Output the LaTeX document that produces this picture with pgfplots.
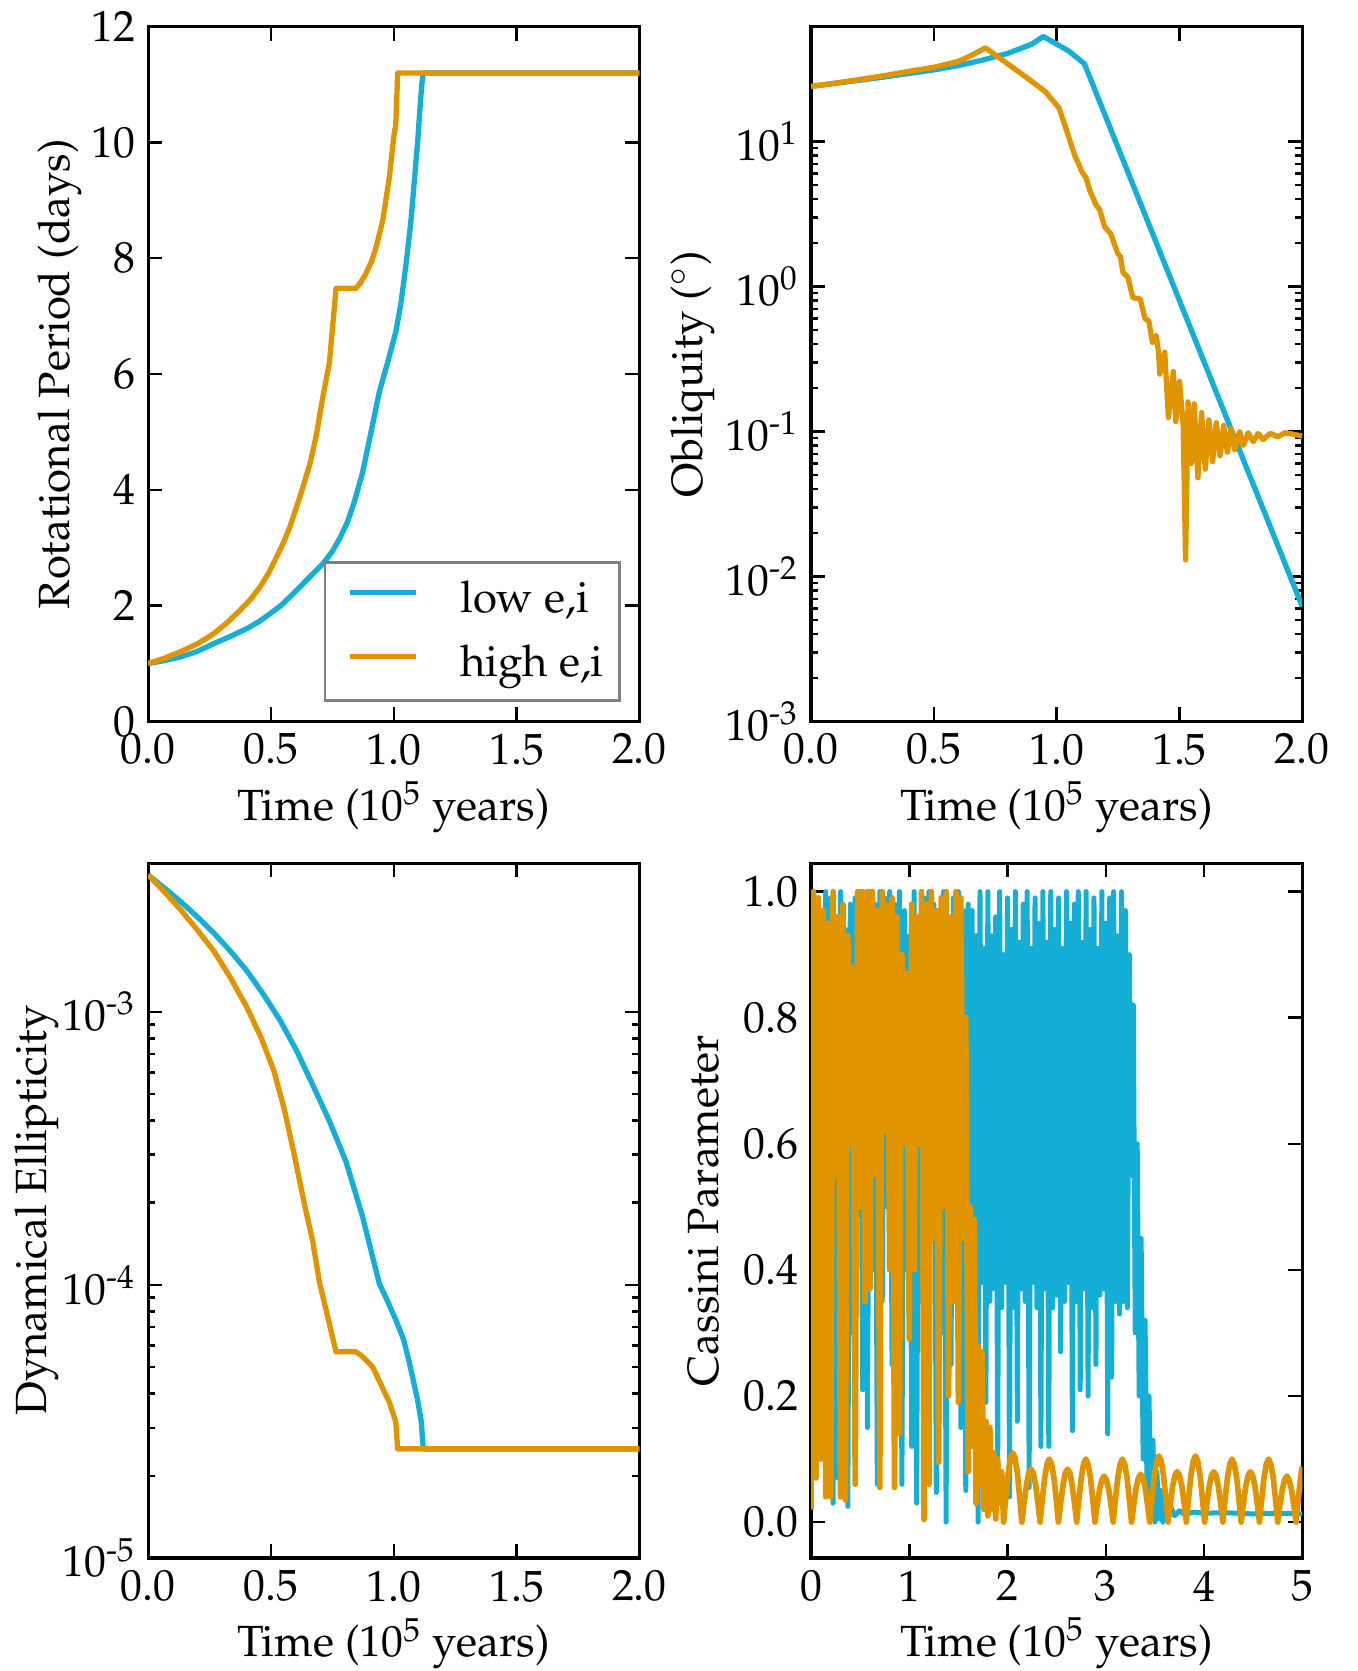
\documentclass[border=0pt]{standalone}
\usepackage[T1]{fontenc}
\usepackage{mathpazo}
\usepackage{amsmath}
\usepackage{pgfplots}
\pgfplotsset{compat=1.18}
\definecolor{cblue}{RGB}{20,174,214}
\definecolor{corange}{RGB}{224,149,0}
\pgfplotsset{
  myax/.style={
    scale only axis, width=138.3pt, height=195.6pt,
    axis line style={line width=0.9pt},
    every tick/.style={black, line width=0.7pt},
    major tick length=4pt, minor tick length=2pt,
    tick align=inside,
    font=\fontsize{12.3}{14.8}\selectfont,
    every axis plot/.append style={line join=round},
    xlabel style={yshift=2.2pt},
    ylabel shift=-4pt,
  },
  fx/.style={xticklabel style={/pgf/number format/.cd, fixed, fixed zerofill, precision=1}},
}
\begin{document}
\begin{tikzpicture}
\useasboundingbox (-41.7pt,7.5pt) rectangle (340.5pt,-462.9pt);
% ---------------- Rotational period
\begin{axis}[myax, fx, at={(0pt,0pt)}, anchor=north west,
  xmin=0, xmax=2, ymin=0, ymax=12,
  xtick={0,0.5,1,1.5,2}, ytick={0,2,4,6,8,10,12},
  xlabel={Time (10$^5$ years)}, ylabel={Rotational Period (days)},
  legend style={at={(0.962,0.028)}, anchor=south east, draw=gray, line width=0.8pt,
    row sep=7.6pt, inner xsep=4.4pt, inner ysep=5.2pt,
    nodes={inner xsep=0pt, inner ysep=0pt},
    font=\fontsize{12.3}{14.8}\selectfont},
  legend cell align=left,
  legend image code/.code={\draw[#1] (2.7pt,2.1pt) -- (21.1pt,2.1pt); \path[draw=none] (0pt,0pt) -- (33.7pt,0pt);},
]
\addplot[cblue, line width=1.5pt] coordinates {
(0,1.0)(0.065,1.05)(0.129,1.11)(0.2,1.21)(0.265,1.34)(0.33,1.46)(0.4,1.6)(0.45,1.72)(0.496,1.86)(0.54,2.0)(0.577,2.15)(0.645,2.44)(0.713,2.73)(0.75,2.94)(0.781,3.17)(0.812,3.45)(0.84,3.8)(0.873,4.3)(0.91,5.05)(0.941,5.69)(0.975,6.2)(1.009,6.74)(1.03,7.25)(1.05,7.9)(1.07,8.65)(1.084,9.35)(1.097,10.0)(1.106,10.55)(1.114,11.0)(1.12,11.2)(2.0,11.2)};
\addlegendentry{low e,i}
\addplot[corange, line width=1.5pt] coordinates {
(0,1.0)(0.065,1.09)(0.129,1.2)(0.2,1.34)(0.265,1.51)(0.32,1.7)(0.374,1.92)(0.415,2.1)(0.455,2.32)(0.49,2.56)(0.523,2.84)(0.55,3.08)(0.577,3.36)(0.618,3.88)(0.659,4.45)(0.685,4.95)(0.711,5.6)(0.738,6.2)(0.765,7.48)(0.846,7.48)(0.865,7.58)(0.887,7.74)(0.91,7.95)(0.928,8.19)(0.955,8.65)(0.982,9.4)(1.0,10.1)(1.008,10.3)(1.016,11.2)(2.0,11.2)};
\addlegendentry{high e,i}
\end{axis}
% ---------------- Obliquity
\begin{axis}[myax, fx, at={(186.6pt,0pt)}, anchor=north west,
  ymode=log, xmin=0, xmax=2, ymin=1e-3, ymax=62,
  xtick={0,0.5,1,1.5,2}, ytick={1e-3,1e-2,1e-1,1,10},
  yticklabels={$10^{\text{-}3}$,$10^{\text{-}2}$,$10^{\text{-}1}$,$10^{0}$,$10^{1}$},
  xlabel={Time (10$^5$ years)}, ylabel={Obliquity ($^\circ$)},
]
\addplot[cblue, line width=1.5pt] coordinates {
(0,24.0)(0.1,25.2)(0.2,26.5)(0.3,27.9)(0.4,29.5)(0.5,31.2)(0.6,33.4)(0.7,36.5)(0.8,40.5)(0.9,47)(0.945,53)(1.0,47)(1.05,42)(1.113,34.4)(2.0,0.0062)};
\addplot[corange, line width=1.5pt] coordinates {
(0,24)(0.1,25.3)(0.2,26.8)(0.3,28.5)(0.4,30.5)(0.5,32.5)(0.6,35.7)(0.65,39)(0.71,44.3)(0.8,34.4)(0.9,25.9)(0.955,22)(1.01,17)(1.04,12)(1.075,7.9)(1.09,7.0)(1.10,6.3)(1.12,5.6)(1.135,4.6)(1.16,3.66)(1.175,3.4)(1.195,2.59)(1.22,2.31)(1.248,1.70)(1.26,1.6)(1.27,1.25)(1.29,1.16)(1.31,0.838)(1.34,0.82)(1.36,0.60)(1.375,0.58)(1.39,0.41)(1.405,0.46)(1.415,0.352)(1.42,0.249)(1.44,0.352)(1.455,0.125)(1.475,0.259)(1.485,0.117)(1.50,0.222)(1.515,0.111)(1.525,0.013)(1.535,0.16)(1.548,0.06)(1.56,0.155)(1.575,0.048)(1.59,0.135)(1.605,0.055)(1.62,0.12)(1.635,0.062)(1.65,0.115)(1.665,0.068)(1.68,0.11)(1.695,0.072)(1.71,0.105)(1.725,0.075)(1.745,0.1)(1.76,0.08)(1.78,0.098)(1.80,0.085)(1.82,0.097)(1.84,0.088)(1.87,0.097)(1.90,0.092)(1.93,0.098)(1.96,0.096)(2.0,0.093)};
\end{axis}
% ---------------- Dynamical ellipticity
\begin{axis}[myax, fx, at={(0pt,-235.5pt)}, anchor=north west,
  ymode=log, xmin=0, xmax=2, ymin=1e-5, ymax=3.5e-3,
  xtick={0,0.5,1,1.5,2}, ytick={1e-5,1e-4,1e-3},
  yticklabels={$10^{\text{-}5}$,$10^{\text{-}4}$,$10^{\text{-}3}$},
  xlabel={Time (10$^5$ years)}, ylabel={Dynamical Ellipticity}, ylabel shift=-5.8pt,
]
\addplot[cblue, line width=1.5pt] coordinates {
(0,3.17e-3)(0.066,2.838e-3)(0.132,2.535e-3)(0.2,2.228e-3)(0.268,1.941e-3)(0.335,1.667e-3)(0.403,1.409e-3)(0.47,1.156e-3)(0.539,9.25e-4)(0.607,7.13e-4)(0.675,5.28e-4)(0.738,3.98e-4)(0.806,2.82e-4)(0.873,1.778e-4)(0.941,1.012e-4)(0.975,8.71e-5)(1.009,7.43e-5)(1.04,6.31e-5)(1.064,5.16e-5)(1.097,3.79e-5)(1.112,3.16e-5)(1.12,2.51e-5)(2.0,2.51e-5)};
\addplot[corange, line width=1.5pt] coordinates {
(0,3.17e-3)(0.066,2.754e-3)(0.132,2.366e-3)(0.2,1.995e-3)(0.268,1.667e-3)(0.335,1.334e-3)(0.403,1.035e-3)(0.46,8.04e-4)(0.512,6.08e-4)(0.555,4.37e-4)(0.594,3.02e-4)(0.64,1.905e-4)(0.67,1.445e-4)(0.697,1.028e-4)(0.738,7.19e-5)(0.765,5.69e-5)(0.846,5.69e-5)(0.87,5.50e-5)(0.914,5.01e-5)(0.945,4.37e-5)(0.982,3.72e-5)(1.008,3.16e-5)(1.016,2.51e-5)(2.0,2.51e-5)};
\end{axis}
% ---------------- Cassini parameter
\begin{axis}[myax, at={(186.6pt,-235.5pt)}, anchor=north west,
  xmin=0, xmax=5, ymin=-0.057, ymax=1.045,
  xtick={0,1,2,3,4,5}, ytick={0,0.2,0.4,0.6,0.8,1.0},
  yticklabel style={/pgf/number format/.cd, fixed, fixed zerofill, precision=1},
  xlabel={Time (10$^5$ years)}, ylabel={Cassini Parameter}, ylabel shift=0pt,
]
\addplot[cblue, line width=1.4pt] coordinates {
(0.000,0.97)(0.025,0.55)(0.050,0.98)(0.075,0.10)(0.100,0.97)(0.125,0.45)(0.150,1.00)(0.175,0.06)(0.200,0.99)(0.225,0.03)(0.250,0.96)(0.275,0.07)(0.300,1.00)(0.325,0.045)(0.350,0.94)(0.375,0.025)(0.400,0.98)(0.425,0.30)(0.450,0.99)(0.475,0.60)(0.500,1.00)(0.525,0.21)(0.550,0.97)(0.575,0.15)(0.600,1.00)(0.625,0.40)(0.650,0.98)(0.675,0.06)(0.700,1.00)(0.725,0.35)(0.750,0.99)(0.775,0.50)(0.800,1.00)(0.825,0.25)(0.850,0.98)(0.875,0.45)(0.900,1.00)(0.925,0.06)(0.950,0.97)(0.975,0.40)(1.000,0.93)(1.025,0.12)(1.050,1.00)(1.075,0.03)(1.100,0.95)(1.125,0.35)(1.150,0.99)(1.175,0.20)(1.200,1.00)(1.225,0.45)(1.250,0.98)(1.275,0.047)(1.300,0.97)(1.325,0.30)(1.350,1.00)(1.375,0.00)(1.400,0.96)(1.425,0.25)(1.450,0.99)(1.475,0.40)(1.500,1.00)(1.525,0.15)(1.550,0.97)(1.575,0.05)(1.600,0.98)
(1.62,0.50)(1.64,0.97)(1.66,0.30)(1.68,0.93)(1.70,0.00)(1.72,1.00)(1.74,0.38)(1.76,0.91)(1.78,0.19)(1.80,1.00)(1.82,0.35)(1.84,0.93)(1.86,0.37)(1.88,0.96)(1.90,0.08)(1.92,1.00)(1.94,0.34)(1.96,0.90)(1.98,0.38)(2.00,0.99)(2.02,0.04)(2.04,0.94)(2.06,0.34)(2.08,1.00)(2.10,0.16)(2.12,0.92)(2.14,0.37)(2.16,0.98)(2.18,0.35)(2.20,1.00)(2.22,0.055)(2.24,0.91)(2.26,0.38)(2.28,0.99)(2.30,0.34)(2.32,0.95)(2.34,0.12)(2.36,1.00)(2.38,0.37)(2.40,0.92)(2.42,0.12)(2.44,1.00)(2.46,0.34)(2.48,0.94)(2.50,0.36)(2.52,0.99)(2.54,0.27)(2.56,0.91)(2.58,0.35)(2.60,1.00)(2.62,0.38)(2.64,0.95)(2.66,0.145)(2.68,0.98)(2.70,0.35)(2.72,1.00)(2.74,0.21)(2.76,0.92)(2.78,0.37)(2.80,1.00)(2.82,0.20)(2.84,0.94)(2.86,0.34)(2.88,0.99)(2.90,0.25)(2.92,0.91)(2.94,0.36)(2.96,1.00)(2.98,0.37)(3.00,0.95)(3.02,0.14)(3.04,0.99)(3.06,0.23)(3.08,1.00)(3.10,0.35)(3.12,0.93)(3.14,0.33)(3.16,1.00)(3.18,0.35)(3.20,0.97)(3.22,0.34)(3.24,0.90)
(3.26,0.55)(3.28,0.82)(3.30,0.30)(3.32,0.60)(3.34,0.20)(3.36,0.45)(3.38,0.10)(3.40,0.32)(3.42,0.05)(3.44,0.20)(3.46,0.02)(3.48,0.13)(3.50,0.00)(3.52,0.08)(3.54,0.005)(3.56,0.05)(3.58,0.00)(3.60,0.03)(3.63,0.005)(3.66,0.025)(3.70,0.01)(3.75,0.018)(3.80,0.012)(3.90,0.016)(4.00,0.014)(4.20,0.015)(4.50,0.013)(4.80,0.014)(5.00,0.013)};
\addplot[corange, line width=1.6pt] coordinates {
(0.000,0.02)(0.025,1.00)(0.050,0.07)(0.075,0.99)(0.100,0.10)(0.125,0.97)(0.150,0.04)(0.175,0.95)(0.200,0.04)(0.225,1.00)(0.250,0.55)(0.275,0.96)(0.300,0.04)(0.325,0.98)(0.350,0.035)(0.375,0.93)(0.400,0.60)(0.425,0.88)(0.450,0.06)(0.475,1.00)(0.500,0.50)(0.525,1.00)(0.550,0.35)(0.575,1.00)(0.600,0.37)(0.625,1.00)(0.650,0.55)(0.675,0.97)(0.700,0.055)(0.725,1.00)(0.750,0.62)(0.775,0.98)(0.800,0.40)(0.825,0.99)(0.850,0.055)(0.875,0.96)(0.900,0.14)(0.925,0.90)(0.950,0.60)(0.975,0.87)(1.000,0.29)(1.025,0.98)(1.050,0.40)(1.075,0.96)(1.100,0.60)(1.125,1.00)(1.150,0.004)(1.175,0.98)(1.200,0.06)(1.225,1.00)(1.250,0.45)(1.275,0.97)(1.300,0.095)(1.325,0.99)(1.350,0.50)(1.375,1.00)(1.400,0.20)(1.425,0.96)(1.450,0.35)(1.475,1.00)(1.500,0.19)(1.525,0.99)(1.550,0.45)(1.575,0.80)(1.600,0.08)
(1.620,0.50)(1.640,0.12)(1.660,0.48)(1.680,0.03)(1.700,0.28)(1.720,0.06)(1.740,0.27)(1.760,0.02)(1.780,0.16)(1.800,0.01)(1.820,0.15)(1.840,0.02)(1.860,0.11)(1.880,0.005)(1.900,0.10)(1.920,0.03)(1.940,0.08)
(1.960,0)(1.979,0.034)(2.007,0.078)(2.030,0.102)(2.053,0.11)(2.076,0.102)(2.100,0.078)(2.127,0.034)
(2.146,0)(2.165,0.026)(2.193,0.059)(2.216,0.078)(2.239,0.084)(2.262,0.078)(2.286,0.059)(2.313,0.026)
(2.332,0)(2.351,0.031)(2.379,0.071)(2.402,0.092)(2.425,0.10)(2.448,0.092)(2.472,0.071)(2.499,0.031)
(2.518,0)(2.537,0.026)(2.565,0.059)(2.588,0.078)(2.611,0.084)(2.634,0.078)(2.658,0.059)(2.685,0.026)
(2.704,0)(2.723,0.031)(2.751,0.071)(2.774,0.092)(2.797,0.10)(2.820,0.092)(2.844,0.071)(2.871,0.031)
(2.890,0)(2.909,0.023)(2.937,0.052)(2.960,0.067)(2.983,0.073)(3.006,0.067)(3.030,0.052)(3.057,0.023)
(3.076,0)(3.095,0.031)(3.123,0.071)(3.146,0.092)(3.169,0.10)(3.192,0.092)(3.216,0.071)(3.243,0.031)
(3.262,0)(3.281,0.023)(3.309,0.054)(3.332,0.070)(3.355,0.076)(3.378,0.070)(3.402,0.054)(3.429,0.023)
(3.448,0)(3.467,0.032)(3.495,0.074)(3.518,0.097)(3.541,0.105)(3.564,0.097)(3.588,0.074)(3.615,0.032)
(3.634,0)(3.653,0.025)(3.681,0.057)(3.704,0.074)(3.727,0.08)(3.750,0.074)(3.774,0.057)(3.801,0.025)
(3.820,0)(3.839,0.032)(3.867,0.074)(3.890,0.097)(3.913,0.105)(3.936,0.097)(3.960,0.074)(3.987,0.032)
(4.006,0)(4.025,0.025)(4.053,0.057)(4.076,0.074)(4.099,0.08)(4.122,0.074)(4.146,0.057)(4.173,0.025)
(4.192,0)(4.211,0.031)(4.239,0.071)(4.262,0.092)(4.285,0.10)(4.308,0.092)(4.332,0.071)(4.359,0.031)
(4.378,0)(4.397,0.025)(4.425,0.057)(4.448,0.074)(4.471,0.08)(4.494,0.074)(4.518,0.057)(4.545,0.025)
(4.564,0)(4.583,0.031)(4.611,0.071)(4.634,0.092)(4.657,0.10)(4.680,0.092)(4.704,0.071)(4.731,0.031)
(4.750,0)(4.769,0.023)(4.797,0.052)(4.820,0.067)(4.843,0.073)(4.866,0.067)(4.890,0.052)(4.917,0.023)
(4.936,0)(4.955,0.031)(4.983,0.071)(5.000,0.088)};
\end{axis}
\end{tikzpicture}
\end{document}
